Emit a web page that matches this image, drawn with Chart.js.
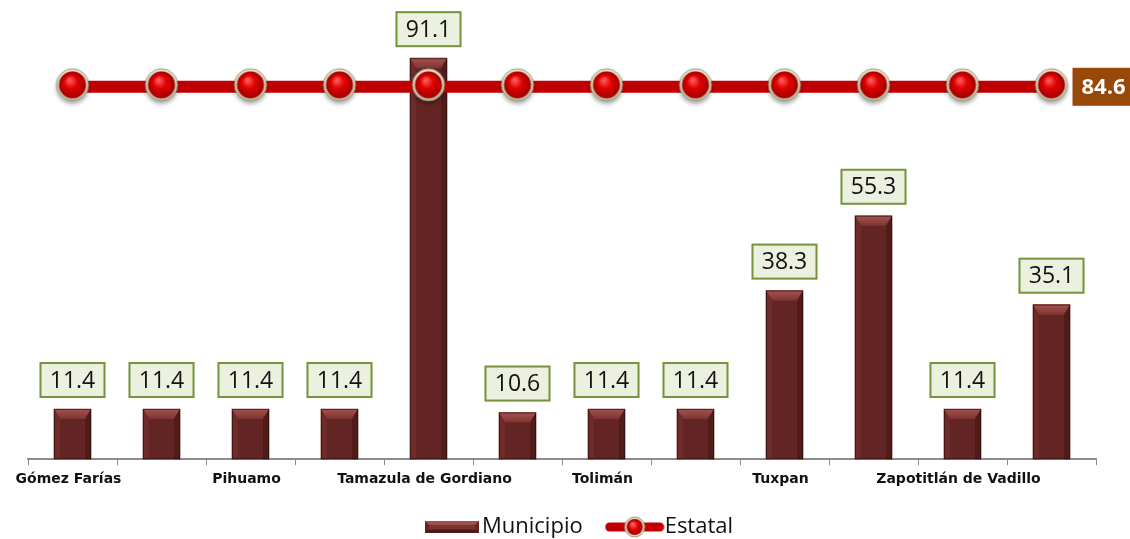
<!DOCTYPE html>
<html><head><meta charset="utf-8">
<script src="https://cdn.jsdelivr.net/npm/chart.js@4.4.0/dist/chart.umd.min.js"></script>
<style>html,body{margin:0;padding:0;background:#fff;}#wrap{width:1130px;height:539px;position:relative;}</style>
</head><body><div id="wrap"><canvas id="c" width="1130" height="539"></canvas></div>
<script>
const categories = ['Gómez Farías','Jilotlán de los Dolores','Pihuamo','San Gabriel','Tamazula de Gordiano','Tecalitlán','Tolimán','Tonila','Tuxpan','Zapotiltic','Zapotitlán de Vadillo','Zapotlán el Grande'];
const municipioValues = [11.4, 11.4, 11.4, 11.4, 91.1, 10.6, 11.4, 11.4, 38.3, 55.3, 11.4, 35.1];
const estatalValues = [84.6, 84.6, 84.6, 84.6, 84.6, 84.6, 84.6, 84.6, 84.6, 84.6, 84.6, 84.6];
const seriesNames = ['Municipio', 'Estatal'];

const BAR = '#632523';

function makePointImg(){
  const c = document.createElement('canvas'); c.width = 40; c.height = 42;
  const g = c.getContext('2d');
  const cx = 20, cy = 19;
  g.save(); g.shadowColor = 'rgba(0,0,0,0.35)'; g.shadowBlur = 4; g.shadowOffsetY = 3;
  g.beginPath(); g.arc(cx, cy, 16, 0, Math.PI*2); g.fillStyle = '#d9d6b8'; g.fill(); g.restore();
  const rg = g.createLinearGradient(0, cy-16, 0, cy+16);
  rg.addColorStop(0, '#f1efd9'); rg.addColorStop(1, '#b9b796');
  g.beginPath(); g.arc(cx, cy, 16, 0, Math.PI*2); g.fillStyle = rg; g.fill();
  g.lineWidth = 1; g.strokeStyle = '#9a9a80'; g.stroke();
  const gr = g.createRadialGradient(cx-3, cy-5, 1, cx, cy, 13.5);
  gr.addColorStop(0, '#ff5a5a'); gr.addColorStop(0.45, '#e00000'); gr.addColorStop(1, '#a00000');
  g.beginPath(); g.arc(cx, cy, 13.5, 0, Math.PI*2); g.fillStyle = gr; g.fill();
  return c;
}
function makeBarIcon(){
  const c = document.createElement('canvas'); c.width = 54; c.height = 12;
  const g = c.getContext('2d');
  g.fillStyle = BAR; g.fillRect(0,0,54,12);
  g.fillStyle = '#a0504c'; g.beginPath(); g.moveTo(0,0); g.lineTo(54,0); g.lineTo(50,4); g.lineTo(4,4); g.closePath(); g.fill();
  g.fillStyle = '#7a3330'; g.fillRect(4,4,46,4);
  g.fillStyle = '#4a1a18'; g.beginPath(); g.moveTo(0,12); g.lineTo(54,12); g.lineTo(50,9); g.lineTo(4,9); g.closePath(); g.fill();
  return c;
}
function makeLineIcon(){
  const c = document.createElement('canvas'); c.width = 60; c.height = 24;
  const g = c.getContext('2d');
  g.strokeStyle = '#C00000'; g.lineWidth = 9; g.lineCap = 'round';
  g.beginPath(); g.moveTo(5,12); g.lineTo(55,12); g.stroke();
  g.beginPath(); g.arc(30,12,10,0,Math.PI*2); g.fillStyle = '#dcd9bd'; g.fill();
  g.strokeStyle = '#a09f85'; g.lineWidth = 1; g.stroke();
  const gr = g.createRadialGradient(28,9,1,30,12,8);
  gr.addColorStop(0,'#ff6060'); gr.addColorStop(0.5,'#e00000'); gr.addColorStop(1,'#a00000');
  g.beginPath(); g.arc(30,12,8,0,Math.PI*2); g.fillStyle = gr; g.fill();
  return c;
}
const pointImg = makePointImg();
const barIcon = makeBarIcon();
const lineIcon = makeLineIcon();

const bevelPlugin = {
  id: 'bevel',
  afterDatasetDraw(chart, args) {
    if (args.index !== 0) return;
    const ctx = chart.ctx;
    args.meta.data.forEach(el => {
      const {x, y, base, width} = el.getProps(['x','y','base','width'], true);
      const l = x - width/2, r = x + width/2, b = 6, t = 10;
      ctx.save();
      const tg = ctx.createLinearGradient(0, y, 0, y+t);
      tg.addColorStop(0, '#a5534f'); tg.addColorStop(1, '#7e3431');
      ctx.fillStyle = tg;
      ctx.beginPath(); ctx.moveTo(l, y); ctx.lineTo(r, y); ctx.lineTo(r-b, y+t); ctx.lineTo(l+b, y+t); ctx.closePath(); ctx.fill();
      ctx.fillStyle = '#6f2b29';
      ctx.beginPath(); ctx.moveTo(l, y); ctx.lineTo(l+b, y+t); ctx.lineTo(l+b, base); ctx.lineTo(l, base); ctx.closePath(); ctx.fill();
      ctx.fillStyle = '#4f1c1a';
      ctx.beginPath(); ctx.moveTo(r, y); ctx.lineTo(r-b, y+t); ctx.lineTo(r-b, base); ctx.lineTo(r, base); ctx.closePath(); ctx.fill();
      ctx.strokeStyle = 'rgba(40,10,10,0.6)'; ctx.lineWidth = 1;
      ctx.strokeRect(l+0.5, y+0.5, width-1, base-y-1);
      ctx.restore();
    });
  }
};

const labelPlugin = {
  id: 'valueLabels',
  afterDatasetsDraw(chart) {
    const ctx = chart.ctx;
    const barMeta = chart.getDatasetMeta(0);
    ctx.save();
    ctx.font = '23px "Open Sans", sans-serif';
    ctx.textAlign = 'center'; ctx.textBaseline = 'middle';
    barMeta.data.forEach((el, i) => {
      const w = 66, h = 36;
      const bx = el.x - w/2, by = el.y - 11 - h;
      ctx.fillStyle = '#EBF1DE'; ctx.fillRect(bx, by, w, h);
      ctx.strokeStyle = '#77933C'; ctx.lineWidth = 2; ctx.strokeRect(bx+1, by+1, w-2, h-2);
      ctx.fillStyle = '#111';
      ctx.fillText(municipioValues[i].toFixed(1), el.x, by + h/2 + 1);
    });
    const lineMeta = chart.getDatasetMeta(1);
    const last = lineMeta.data[lineMeta.data.length - 1];
    const lx = last.x + 21, ly = last.y - 19;
    ctx.fillStyle = '#984807'; ctx.fillRect(lx, ly, 60, 38);
    ctx.fillStyle = '#ffffff'; ctx.font = 'bold 22px "Open Sans", sans-serif';
    ctx.textAlign = 'left';
    ctx.fillText(estatalValues[estatalValues.length-1].toFixed(1), lx + 9, ly + 20);
    ctx.restore();
  }
};

const legendPlugin = {
  id: 'customLegend',
  afterDraw(chart) {
    const ctx = chart.ctx;
    const cy = 527;
    ctx.save();
    ctx.font = '22px "Open Sans", sans-serif';
    ctx.textBaseline = 'middle'; ctx.textAlign = 'left'; ctx.fillStyle = '#111';
    let x = 425;
    ctx.drawImage(barIcon, x, cy - 6);
    x += barIcon.width + 3;
    ctx.fillText(seriesNames[0], x, cy);
    x += ctx.measureText(seriesNames[0]).width + 22;
    ctx.drawImage(lineIcon, x, cy - 12);
    x += lineIcon.width;
    ctx.fillText(seriesNames[1], x, cy);
    ctx.restore();
  }
};

new Chart(document.getElementById('c'), {
  data: {
    labels: categories,
    datasets: [
      { type: 'bar', label: seriesNames[0], data: municipioValues, backgroundColor: BAR, barThickness: 37, order: 1 },
      { type: 'line', label: seriesNames[1], data: estatalValues, borderColor: '#C00000', borderWidth: 12,
        pointStyle: pointImg, pointRadius: 1, pointHoverRadius: 1, pointHitRadius: 1, pointBorderWidth: 0, order: 0, clip: false }
    ]
  },
  options: {
    responsive: false, animation: false, devicePixelRatio: 1,
    layout: { padding: { left: 28, right: 34, top: 19, bottom: 45 } },
    scales: {
      x: {
        offset: true,
        grid: { display: true, drawOnChartArea: false, offset: true, color: '#8c8c8c', tickLength: 6, tickWidth: 1 },
        border: { display: true, color: '#8c8c8c', width: 2 },
        ticks: {
          autoSkip: false, maxRotation: 0, minRotation: 0, padding: 6, labelOffset: -4,
          color: '#111', font: { family: '"DejaVu Sans", sans-serif', weight: 'bold', size: 14 },
          callback: function(v, i) { return i % 2 === 0 ? categories[i] : ''; }
        }
      },
      y: { display: false, min: 0, max: 100 }
    },
    plugins: {
      tooltip: { enabled: false },
      legend: { display: false }
    }
  },
  plugins: [bevelPlugin, labelPlugin, legendPlugin]
});
</script></body></html>
